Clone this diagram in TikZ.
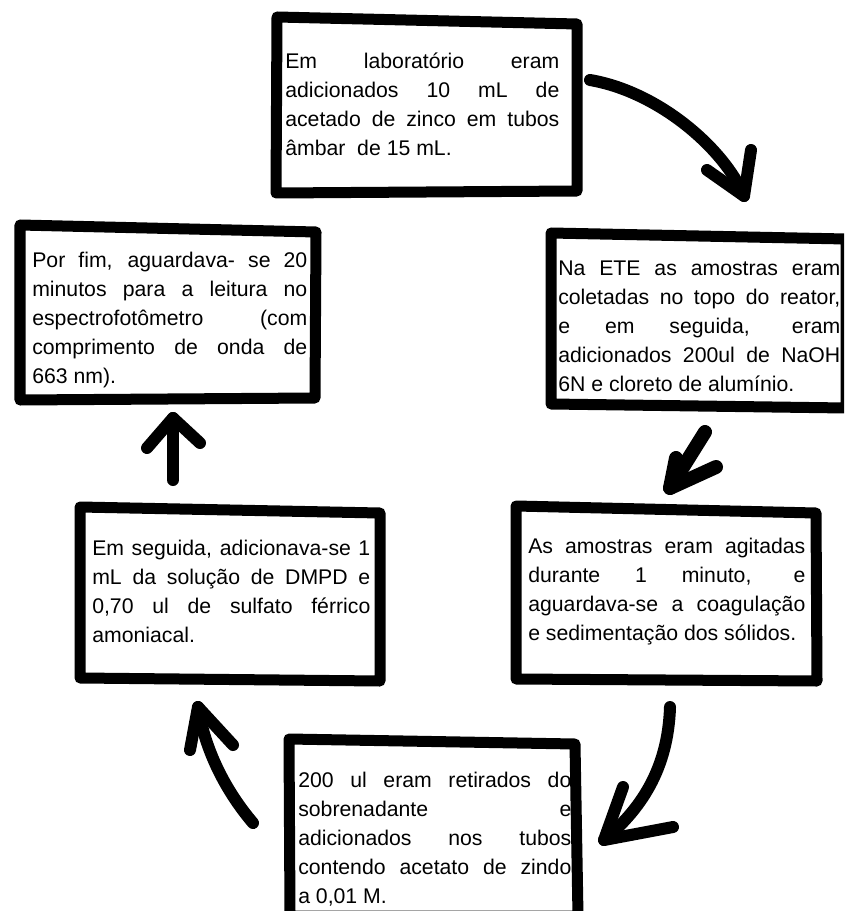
\documentclass[tikz,border=0pt]{standalone}
\usepackage{fontspec}
\setmainfont{Liberation Sans}

\begin{document}
\begin{tikzpicture}[x=0.025cm, y=-0.025cm,
    boxframe/.style={line width=0.275cm, line join=round, fill=white},
    brush/.style={line width=0.3cm, line cap=round, line join=round},
    steptext/.style={anchor=north west, inner sep=0pt, align=justify,
        font=\fontsize{15.1}{20.6}\selectfont}]
    \useasboundingbox (0,0) rectangle (844,911);
    \clip (0,0) rectangle (844,911);

    % Frames
    \draw[boxframe] (277,17) -- (577,24) -- (577,191) -- (276,193) -- cycle;
    \draw[boxframe] (551,233) -- (846,239) -- (846,408) -- (551,404) -- cycle;
    \draw[boxframe] (20,225) -- (316,232) -- (315,398) -- (20,400) -- cycle;
    \draw[boxframe] (516,506) -- (816,513) -- (817,681) -- (516,679) -- cycle;
    \draw[boxframe] (80,507) -- (380,513) -- (380,681) -- (80,678) -- cycle;
    \draw[boxframe] (289,739) -- (575,744) -- (578,916) -- (290,916) -- cycle;

    % Steps
    \node[steptext, text width=6.85cm] (lab) at (285,47.7)
        {\strut Em laboratório eram\linebreak adicionados 10 mL de\linebreak acetado de zinco em tubos\linebreak âmbar\ \ de 15 mL.};
    \node[steptext, text width=7.05cm] (ete) at (558,254.7)
        {\strut Na ETE as amostras eram\linebreak coletadas no topo do reator,\linebreak e em seguida, eram\linebreak adicionados 200ul de NaOH\linebreak 6N e cloreto de alumínio.};
    \node[steptext, text width=6.925cm] (agita) at (528,532.7)
        {\strut As amostras eram agitadas\linebreak durante 1 minuto, e\linebreak aguardava-se a coagulação\linebreak e sedimentação dos sólidos.};
    \node[steptext, text width=6.825cm] (retira) at (298,766.7)
        {\strut 200 ul eram retirados do\linebreak sobrenadante e\linebreak adicionados nos tubos\linebreak contendo acetato de zindo\linebreak a 0,01 M.};
    \node[steptext, text width=6.95cm] (dmpd) at (92,534.7)
        {\strut Em seguida, adicionava-se 1\linebreak mL da solução de DMPD e\linebreak 0,70 ul de sulfato férrico\linebreak amoniacal.};
    \node[steptext, text width=6.875cm] (leitura) at (32,246.7)
        {\strut Por fim, aguardava- se 20\linebreak minutos para a leitura no\linebreak espectrofotômetro (com\linebreak comprimento de onda de\linebreak 663 nm).};

    % Arrow ends
    \coordinate (a1s) at (590,80);  \coordinate (a1t) at (744,196);
    \coordinate (a2s) at (705,432); \coordinate (a2t) at (670,488);
    \coordinate (a3s) at (670,707); \coordinate (a3t) at (604,840);
    \coordinate (a4s) at (253,823); \coordinate (a4t) at (198,707);
    \coordinate (a5s) at (173,480); \coordinate (a5t) at (173,418);

    % Arrows
    \draw[brush] (a1s) .. controls (660,92) and (725,150) .. (a1t);
    \draw[brush] ([shift={(-37,-26)}]a1t) -- (a1t) -- ([shift={(7,-46)}]a1t);
    \draw[brush, line width=0.35cm] (a2s) -- (a2t);
    \draw[brush, line width=0.35cm] ([shift={(6,-30)}]a2t) -- (a2t) -- ([shift={(46,-21)}]a2t);
    \draw[brush] (a3s) .. controls (668,770) and (640,810) .. (a3t);
    \draw[brush] ([shift={(19,-53)}]a3t) -- (a3t) -- ([shift={(69,-13)}]a3t);
    \draw[brush] (a4s) .. controls (225,790) and (205,750) .. (a4t);
    \draw[brush] ([shift={(-8,43)}]a4t) -- (a4t) -- ([shift={(35,38)}]a4t);
    \draw[brush] (a5s) -- (a5t);
    \draw[brush] ([shift={(-26,30)}]a5t) -- (a5t) -- ([shift={(27,25)}]a5t);
\end{tikzpicture}
\end{document}
